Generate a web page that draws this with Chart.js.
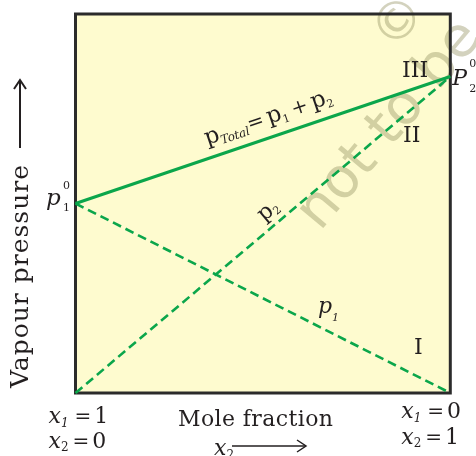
<!DOCTYPE html>
<html>
<head>
<meta charset="utf-8">
<script src="https://cdn.jsdelivr.net/npm/chart.js@4"></script>
<style>
  html, body { margin: 0; padding: 0; background: #fff; }
  #wrap { width: 476px; height: 456px; }
</style>
</head>
<body>
<div id="wrap"><canvas id="vp-chart" width="476" height="456"></canvas></div>
<script>
// mole fraction x2 at the two ends of the diagram
const xFraction = [0, 1];
// partial pressures (fraction of the plot height)
const p1Values = [0.5, 0];
const p2Values = [0, 0.835];
const totalValues = [0.5, 0.835];
// region labels
const regionLabels = ["I", "II", "III"];

const GREEN = "#0ba64b";
const SERIF = '"DejaVu Serif", serif';

function toPoints(values) {
  return xFraction.map((x, i) => ({ x: x, y: values[i] }));
}

// draw a run of text pieces (subscripts, italics) from x, y
function rich(ctx, x, y, parts) {
  let cx = x;
  parts.forEach((p) => {
    ctx.font = (p.i ? "italic " : "") + p.s + "px " + SERIF;
    ctx.fillText(p.t, cx + (p.dx || 0), y + (p.dy || 0));
    cx += (p.dx || 0) + ctx.measureText(p.t).width + (p.gap || 0);
  });
  return cx;
}

function arrowHead(ctx, x, y, dx, dy) {
  // open chevron head pointing along (dx, dy)
  const len = 9, w = 6;
  const px = -dy, py = dx;
  ctx.beginPath();
  ctx.moveTo(x - dx * len + px * w, y - dy * len + py * w);
  ctx.lineTo(x, y);
  ctx.lineTo(x - dx * len - px * w, y - dy * len - py * w);
  ctx.stroke();
}

const backdrop = {
  id: "backdrop",
  beforeDatasetsDraw(chart) {
    const { ctx, chartArea: a } = chart;
    ctx.save();
    ctx.fillStyle = "#fefbcf";
    ctx.fillRect(a.left, a.top, a.right - a.left, a.bottom - a.top);

    // faint watermark
    ctx.fillStyle = "rgba(150, 148, 100, 0.42)";
    ctx.font = '56px "DejaVu Sans", sans-serif';
    ctx.save();
    ctx.translate(320, 232);
    ctx.rotate((-50 * Math.PI) / 180);
    ctx.fillText("not to be", 0, 0);
    ctx.restore();
    ctx.save();
    ctx.translate(394, 52);
    ctx.rotate((-50 * Math.PI) / 180);
    ctx.font = '52px "DejaVu Sans", sans-serif';
    ctx.fillText("\u00a9", 0, 0);
    ctx.restore();

    ctx.strokeStyle = "#2b2b2b";
    ctx.lineWidth = 3;
    ctx.strokeRect(a.left, a.top, a.right - a.left, a.bottom - a.top);
    ctx.restore();
  },
};

const labels = {
  id: "labels",
  afterDatasetsDraw(chart) {
    const { ctx, chartArea: a } = chart;
    const xs = chart.scales.x, ys = chart.scales.y;
    ctx.save();
    ctx.fillStyle = "#231f20";
    ctx.strokeStyle = "#231f20";
    ctx.textBaseline = "alphabetic";
    ctx.textAlign = "left";

    // axis titles
    ctx.save();
    ctx.translate(28, 388);
    ctx.rotate(-Math.PI / 2);
    ctx.font = "25px " + SERIF;
    ctx.letterSpacing = "1px";
    ctx.fillText("Vapour pressure", 0, 0);
    ctx.restore();
    ctx.lineWidth = 2;
    ctx.beginPath();
    ctx.moveTo(20, 148);
    ctx.lineTo(20, 81);
    ctx.stroke();
    arrowHead(ctx, 20, 80, 0, -1);

    ctx.save();
    ctx.font = "22px " + SERIF;
    ctx.letterSpacing = "0.4px";
    ctx.fillText("Mole fraction", 178, 426);
    ctx.restore();
    rich(ctx, 214, 455, [
      { t: "x", i: 1, s: 22 },
      { t: "2", s: 12, dy: 4 },
    ]);
    ctx.lineWidth = 1.5;
    ctx.beginPath();
    ctx.moveTo(232, 446);
    ctx.lineTo(305, 446);
    ctx.stroke();
    arrowHead(ctx, 306, 446, 1, 0);

    // composition at the two ends
    const xl = a.left - 27, xr = a.right - 49;
    [[xl, "1", "0"], [xr, "0", "1"]].forEach(([x0, v1, v2], k) => {
      const b1 = k ? 418 : 423, b2 = k ? 444 : 448;
      rich(ctx, x0, b1, [
        { t: "x", i: 1, s: 22 },
        { t: "1", i: 1, s: 12, dy: 4, gap: 6 },
        { t: "=", s: 20, gap: 3 },
        { t: v1, s: 22 },
      ]);
      rich(ctx, x0, b2, [
        { t: "x", i: 1, s: 22 },
        { t: "2", s: 12, dy: 3, gap: 4 },
        { t: "=", s: 20, gap: 3 },
        { t: v2, s: 22 },
      ]);
    });

    // vapour pressures of the pure components
    const yp1 = ys.getPixelForValue(p1Values[0]);
    ctx.font = "italic 23px " + SERIF;
    ctx.fillText("p", 46, yp1 + 1);
    ctx.font = "11px " + SERIF;
    ctx.fillText("0", 63, yp1 - 15);
    ctx.fillText("1", 63, yp1 + 7);

    const yp2 = ys.getPixelForValue(p2Values[1]);
    ctx.font = "italic 22px " + SERIF;
    ctx.fillText("P", a.right + 2, yp2 + 8);
    ctx.font = "11px " + SERIF;
    ctx.fillText("0", a.right + 19, yp2 - 10);
    ctx.fillText("2", a.right + 19, yp2 + 15);

    // region numerals
    ctx.font = "22px " + SERIF;
    ctx.fillText(regionLabels[2], 402, 77);
    ctx.fillText(regionLabels[1], 403, 142);
    ctx.fillText(regionLabels[0], 414, 354);

    // line labels, set along the lines
    const tx0 = xs.getPixelForValue(0), tx1 = xs.getPixelForValue(1);
    const angTotal = Math.atan2(ys.getPixelForValue(totalValues[1]) - yp1, tx1 - tx0);
    ctx.save();
    ctx.translate(207, yp1 + (207 - tx0) * Math.tan(angTotal) - 14);
    ctx.rotate(angTotal);
    rich(ctx, 0, 0, [
      { t: "p", s: 23 },
      { t: "Total", i: 1, s: 12, dy: 4 },
      { t: "=", s: 20, gap: 4 },
      { t: "p", s: 23 },
      { t: "1", s: 11, dy: 4, gap: 4 },
      { t: "+", s: 20, gap: 4 },
      { t: "p", s: 23 },
      { t: "2", s: 11, dy: 4 },
    ]);
    ctx.restore();

    const angP2 = Math.atan2(yp2 - ys.getPixelForValue(0), tx1 - tx0);
    ctx.save();
    ctx.translate(264, 222);
    ctx.rotate(angP2);
    rich(ctx, 0, 0, [
      { t: "p", s: 22 },
      { t: "2", s: 11, dy: 3 },
    ]);
    ctx.restore();

    rich(ctx, 318, 313, [
      { t: "p", i: 1, s: 22 },
      { t: "1", i: 1, s: 11, dy: 8 },
    ]);
    ctx.restore();
  },
};

const lineStyle = {
  borderColor: GREEN,
  borderWidth: 2.6,
  pointRadius: 0,
  fill: false,
  clip: 4,
};

const config = {
  type: "line",
  data: {
    datasets: [
      { ...lineStyle, label: "p1", data: toPoints(p1Values), borderDash: [9, 5] },
      { ...lineStyle, label: "p2", data: toPoints(p2Values), borderDash: [9, 5] },
      { ...lineStyle, label: "pTotal", data: toPoints(totalValues), borderWidth: 3 },
    ],
  },
  options: {
    responsive: false,
    animation: false,
    layout: { padding: { left: 75.5, top: 14, right: 25.7, bottom: 63 } },
    scales: {
      x: { type: "linear", min: 0, max: 1, display: false },
      y: { type: "linear", min: 0, max: 1, display: false },
    },
    plugins: {
      legend: { display: false },
      tooltip: { enabled: false },
    },
  },
  plugins: [backdrop, labels],
};

const myChart = new Chart(document.getElementById("vp-chart"), config);
</script>
</body>
</html>
